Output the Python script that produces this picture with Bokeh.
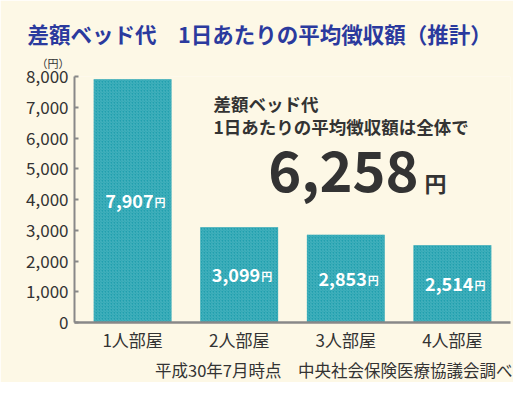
from bokeh.plotting import figure
from bokeh.models import (FactorRange, Range1d, Label, FixedTicker, NumeralTickFormatter,
                          ColumnDataSource, Title)
from bokeh.core.properties import value
from bokeh.embed import file_html
from bokeh.resources import INLINE

# ---- data ----
categories = ["1人部屋", "2人部屋", "3人部屋", "4人部屋"]
values = [7907, 3099, 2853, 2514]
value_labels = ["7,907", "3,099", "2,853", "2,514"]
y_ticks = [0, 1000, 2000, 3000, 4000, 5000, 6000, 7000, 8000]
title_text = "差額ベッド代　1日あたりの平均徴収額（推計）"
unit_text = "（円）"
note_line1 = "差額ベッド代"
note_line2 = "1日あたりの平均徴収額は全体で"
overall_value = "6,258"
yen = "円"
source_text = "平成30年7月時点　中央社会保険医療協議会調べ"

FONT = "Noto Sans CJK JP"
BG = "#fdf8e6"
TXT = "#333333"

W, H = 513, 382
FL, FR, FT, FB = 74, 510, 76, 323   # frame edges in picture coords

p = figure(width=W, height=H, output_backend="svg", toolbar_location=None,
           x_range=FactorRange(factors=categories, range_padding=0.045,
                               range_padding_units="absolute"),
           y_range=Range1d(0, 8000), title=None)
p.min_border_left = FL
p.min_border_right = W - FR
p.min_border_top = FT
p.min_border_bottom = H - FB
p.background_fill_color = BG
p.border_fill_color = BG
p.outline_line_color = None
p.grid.grid_line_color = None

src = ColumnDataSource(dict(x=categories, top=values, mid=[v / 2 for v in values],
                            lab=value_labels, yen=[yen] * len(values)))
p.vbar(x="x", top="top", width=0.73, source=src, fill_color="#21a0ae", line_color=None,
       hatch_pattern="/", hatch_color="#62c0ca", hatch_alpha=0.6, hatch_scale=3,
       hatch_weight=1)
p.text(x="x", y="mid", text="lab", source=src, text_align="right", text_baseline="middle",
       x_offset=21, text_color="white", text_font=value(FONT), text_font_size="18px",
       text_font_style="bold")
p.text(x="x", y="mid", text="yen", source=src, text_align="left", text_baseline="middle",
       x_offset=22, y_offset=1, text_color="white", text_font=value(FONT),
       text_font_size="11px", text_font_style="bold")

# axes
yax = p.yaxis[0]
yax.ticker = FixedTicker(ticks=y_ticks)
yax.formatter = NumeralTickFormatter(format="0,0")
yax.axis_line_color = "#888888"
yax.axis_line_width = 2
yax.major_tick_line_color = "#888888"
yax.major_tick_line_width = 2
yax.major_tick_in = 4
yax.major_tick_out = 0
yax.minor_tick_line_color = None
yax.major_label_text_font = FONT
yax.major_label_text_font_size = "17px"
yax.major_label_text_color = TXT
yax.major_label_standoff = 6

xax = p.xaxis[0]
xax.axis_line_color = "#888888"
xax.axis_line_width = 2.5
xax.major_tick_line_color = None
xax.minor_tick_line_color = None
xax.major_label_text_font = FONT
xax.major_label_text_font_size = "17px"
xax.major_label_text_color = TXT
xax.major_label_standoff = -2

# titles outside the frame
p.add_layout(Title(text=unit_text, align="left", offset=36 - FL, standoff=12,
                   text_font=FONT, text_font_size="11px", text_font_style="normal",
                   text_color=TXT), "above")
p.add_layout(Title(text=title_text, align="left", offset=27 - FL, standoff=-4,
                   text_font=FONT, text_font_size="21.5px", text_font_style="bold",
                   text_color="#2b3a9e"), "above")
p.add_layout(Title(text=source_text, align="right", offset=-2, standoff=2,
                   text_font=FONT, text_font_size="16.5px", text_font_style="normal",
                   text_color=TXT), "below")


# free texts inside the frame
def lab(text, X, Y, size, style="bold", align="left"):
    p.add_layout(Label(x=X - FL, y=FB - Y, x_units="screen", y_units="screen", text=text,
                       text_font=FONT, text_font_size=size, text_color=TXT,
                       text_font_style=style, text_align=align, text_baseline="middle"))


lab(note_line1, 213, 104, "17.5px")
lab(note_line2, 213, 127, "17.5px")
lab(overall_value, 418, 172, "56px", align="right")
lab(yen, 424, 182, "22px")

open("out.html", "w").write(file_html(p, INLINE))
